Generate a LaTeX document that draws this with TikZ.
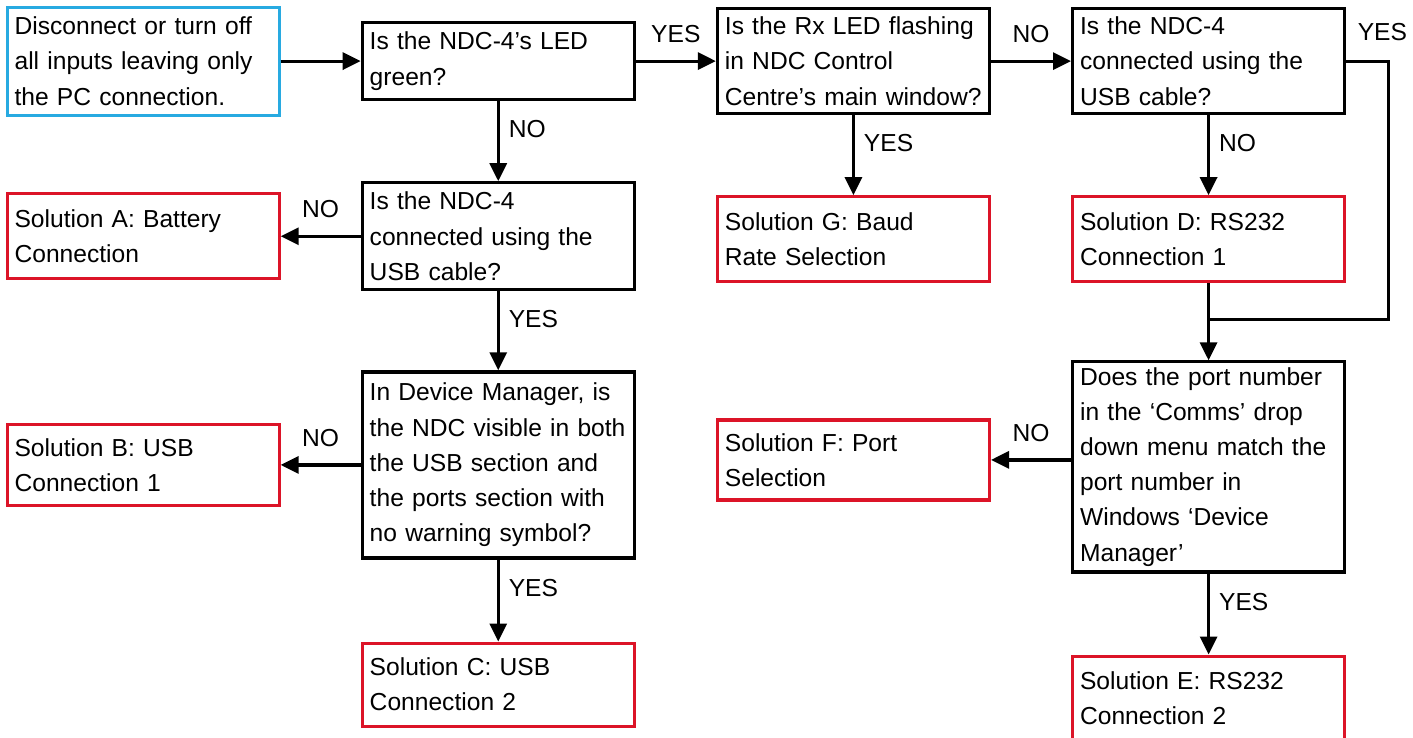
\documentclass[tikz,border=0pt]{standalone}
\usepackage{fontspec}
\setmainfont{Liberation Sans}
\usetikzlibrary{positioning,arrows.meta}

\definecolor{startblue}{RGB}{40,170,225}
\definecolor{solred}{RGB}{220,20,40}

\begin{document}
\begin{tikzpicture}[
    font=\fontsize{14}{20}\selectfont,
    >={Triangle[length=0.36cm,width=0.34cm]},
    node distance=1.6cm and 1.6cm,
    box/.style={
        draw=black,
        line width=1.8pt,
        align=left,
        text width=5.14cm,
        inner xsep=0.15cm,
        inner ysep=0.1cm
    },
    startbox/.style={
        box,
        draw=startblue,
        minimum height=2.16cm
    },
    question/.style={
        box
    },
    solution/.style={
        box,
        draw=solred,
        minimum height=1.7cm
    },
    line/.style={line width=1.8pt},
    arrow/.style={line, ->},
    lab/.style={inner sep=0pt}
]
\useasboundingbox (0,0) rectangle (28.26,-14.74);

% Top row
\node[startbox, anchor=north west] (start) at (0.11,-0.11) {
    Disconnect or turn off\\all inputs leaving only\\the PC connection.
};
\node[question, minimum height=1.54cm, right=of start] (led) {
    Is the NDC-4's LED\\green?
};
\node[question, minimum height=2.1cm, right=of led] (rxled) {
    Is the Rx LED flashing\\in NDC Control\\Centre's main window?
};
\node[question, minimum height=2.1cm, right=of rxled] (usbright) {
    Is the NDC-4\\connected using the\\USB cable?
};

% Left branch
\node[question, minimum height=2.14cm, below=of led] (usbleft) {
    Is the NDC-4\\connected using the\\USB cable?
};
\node[solution, left=of usbleft] (solA) {
    Solution A: Battery\\Connection
};
\node[question, minimum height=3.72cm, below=1.58cm of usbleft] (devmgr) {
    In Device Manager, is\\the NDC visible in both\\the USB section and\\the ports section with\\no warning symbol?
};
\node[solution, minimum height=1.62cm, left=of devmgr] (solB) {
    Solution B: USB\\Connection 1
};
\node[solution, minimum height=1.66cm, below=1.64cm of devmgr] (solC) {
    Solution C: USB\\Connection 2
};

% Right branch
\node[solution, below=of rxled] (solG) {
    Solution G: Baud\\Rate Selection
};
\node[solution, below=of usbright] (solD) {
    Solution D: RS232\\Connection 1
};
\coordinate[below=0.72cm of solD] (join);
\node[question, minimum height=4.2cm, below=1.54cm of solD] (portnum) {
    Does the port number\\in the ‘Comms’ drop\\down menu match the\\port number in\\Windows ‘Device\\Manager’
};
\node[solution, minimum height=1.6cm, left=of portnum, yshift=0.14cm] (solF) {
    Solution F: Port\\Selection
};
\node[solution, below=1.62cm of portnum] (solE) {
    Solution E: RS232\\Connection 2
};

% Connections
\draw[arrow] (start) -- (led);
\draw[arrow] (led) -- node[lab, above=0.34cm] {YES} (rxled);
\draw[arrow] (led) -- node[lab, right=0.18cm, yshift=0.24cm] {NO} (usbleft);
\draw[arrow] (usbleft) -- node[lab, above=0.34cm] {NO} (solA);
\draw[arrow] (usbleft) -- node[lab, right=0.18cm, yshift=0.24cm] {YES} (devmgr);
\draw[arrow] (devmgr) -- node[lab, above=0.34cm] {NO} (solB);
\draw[arrow] (devmgr) -- node[lab, right=0.18cm, yshift=0.24cm] {YES} (solC);

\draw[arrow] (rxled) -- node[lab, above=0.34cm] {NO} (usbright);
\draw[arrow] (rxled) -- node[lab, right=0.18cm, yshift=0.24cm] {YES} (solG);
\draw[arrow] (usbright) -- node[lab, right=0.18cm, yshift=0.24cm] {NO} (solD);
\draw[line] (usbright.east) -- node[lab, pos=0, above right=0.38cm and 0.2cm] {YES} ++(0.84,0) |- (join);
\draw[arrow] (solD) -- (portnum);
\draw[arrow] (portnum.west |- solF) -- node[lab, above=0.34cm] {NO} (solF);
\draw[arrow] (portnum) -- node[lab, right=0.18cm, yshift=0.24cm] {YES} (solE);

\end{tikzpicture}
\end{document}
